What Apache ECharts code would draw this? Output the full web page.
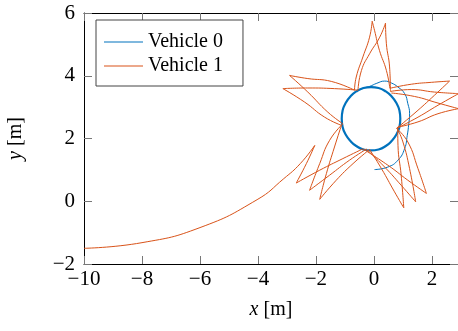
<!DOCTYPE html>
<html>
<head>
<meta charset="utf-8">
<script src="https://cdn.jsdelivr.net/npm/echarts@6/dist/echarts.min.js"></script>
<style>
  html, body { margin: 0; padding: 0; background: #fff; }
  #chart { width: 458px; height: 331px; }
</style>
</head>
<body>
<div id="chart"></div>
<script>
// axis ranges
const xRange = [-10, 2.9]
const yRange = [-2, 6]
const seriesNames = ['Vehicle 0', 'Vehicle 1']

// vehicle 0: approach arc, then laps on the circle
const v0Spiral = [
  [0.02, 1.01], [0.48, 1.09], [0.83, 1.31], [1.06, 1.68], [1.15, 2.1], [1.2, 2.45],
  [1.23, 2.79], [1.17, 3.11], [1.06, 3.43], [0.83, 3.64], [0.6, 3.77], [0.37, 3.83],
  [0.1, 3.76], [-0.15, 3.66], [-0.36, 3.61]
]
const v0Circle = [
  [-0.36, 3.61], [-0.61, 3.5], [-0.81, 3.34], [-0.97, 3.14], [-1.08, 2.89], [-1.11, 2.63],
  [-1.08, 2.37], [-0.97, 2.12], [-0.81, 1.92], [-0.61, 1.76], [-0.36, 1.65], [-0.1, 1.62],
  [0.16, 1.65], [0.41, 1.76], [0.61, 1.92], [0.77, 2.12], [0.88, 2.37], [0.91, 2.63],
  [0.88, 2.89], [0.77, 3.14], [0.61, 3.34], [0.41, 3.5], [0.16, 3.61], [-0.1, 3.64],
  [-0.36, 3.61], [-0.61, 3.5], [-0.81, 3.34], [-0.97, 3.14], [-1.08, 2.89], [-1.11, 2.63]
]

// vehicle 1: long approach, then petal segments between cusps
const v1Approach = [
  [-10.0, -1.5], [-8.0, -1.32], [-6.0, -0.84], [-4.03, 0.05], [-3.11, 0.72], [-2.54, 1.2], [-2.04, 1.78]
]
const v1Petals = [
  [[-2.04, 1.78], [-2.33, 1.2], [-2.68, 0.58]],
  [[-2.68, 0.58], [-1.87, 0.99], [-1.07, 1.36], [-0.38, 1.67]],
  [[-0.38, 1.67], [0.48, 1.15], [1.17, 0.67], [1.81, 0.25]],
  [[1.81, 0.25], [1.52, 1.04], [1.17, 1.89], [0.78, 2.32]],
  [[0.78, 2.32], [1.52, 2.9], [2.09, 3.38], [2.61, 3.83]],
  [[2.61, 3.83], [1.98, 3.79], [1.29, 3.73], [0.55, 3.6]],
  [[0.55, 3.6], [0.43, 4.17], [0.19, 4.81], [0.02, 5.45], [-0.06, 5.74]],
  [[-0.06, 5.74], [-0.15, 5.23], [-0.38, 4.6], [-0.61, 3.96], [-0.67, 3.54]],
  [[-0.67, 3.54], [-1.47, 3.82], [-2.28, 3.91], [-2.91, 4.01]],
  [[-2.91, 4.01], [-2.28, 3.48], [-1.59, 2.84], [-1.07, 2.47]],
  [[-1.07, 2.47], [-1.53, 1.94], [-1.87, 1.2], [-2.22, 0.35]],
  [[-2.22, 0.35], [-1.53, 0.83], [-0.84, 1.31], [-0.26, 1.66]],
  [[-0.26, 1.66], [0.37, 1.09], [0.94, 0.51], [1.44, -0.02]],
  [[1.44, -0.02], [1.23, 1.04], [1.0, 1.89], [0.8, 2.33]],
  [[0.8, 2.33], [1.52, 2.68], [2.21, 3.06], [2.92, 3.43]],
  [[2.92, 3.43], [2.09, 3.48], [1.29, 3.56], [0.57, 3.5]],
  [[0.57, 3.5], [0.54, 4.28], [0.43, 5.02], [0.4, 5.68]],
  [[0.4, 5.68], [0.2, 5.23], [-0.15, 4.7], [-0.43, 4.17], [-0.55, 3.54]],
  [[-0.55, 3.54], [-1.36, 3.59], [-2.28, 3.61], [-3.14, 3.59]],
  [[-3.14, 3.59], [-2.39, 3.16], [-1.7, 2.68], [-1.12, 2.42]],
  [[-1.12, 2.42], [-1.36, 1.73], [-1.64, 0.88], [-1.87, 0.06]],
  [[-1.87, 0.06], [-1.3, 0.67], [-0.72, 1.2], [-0.15, 1.65]],
  [[-0.15, 1.65], [0.26, 1.04], [0.71, 0.3], [1.03, -0.21]],
  [[1.03, -0.21], [0.94, 0.83], [0.83, 1.78], [0.82, 2.36]],
  [[0.82, 2.36], [1.52, 2.53], [2.21, 2.79], [2.92, 2.95]],
  [[2.92, 2.95], [2.21, 3.13], [1.4, 3.34], [0.6, 3.45]]
]

const BLUE = '#0072BD'
const ORANGE = '#D95319'
const FONT = 'Liberation Serif'

const minus = v => String(v).replace('-', '\u2212')

function axisX(pos) {
  return {
    type: 'value',
    position: pos,
    min: xRange[0],
    max: xRange[1],
    interval: 2,
    axisLine: { show: true, onZero: false, lineStyle: { color: '#000', width: 1 } },
    axisTick: { show: true, inside: true, length: 8, lineStyle: { color: '#777', width: 1 } },
    axisLabel: {
      show: pos == 'bottom',
      showMaxLabel: false,
      formatter: minus,
      fontFamily: FONT,
      fontSize: 21,
      color: '#000',
      margin: 5
    },
    splitLine: { show: false }
  }
}

function axisY(pos) {
  return {
    type: 'value',
    position: pos,
    min: yRange[0],
    max: yRange[1],
    interval: 2,
    axisLine: { show: pos == 'left', onZero: false, lineStyle: { color: '#000', width: 1 } },
    axisTick: { show: true, inside: true, length: 8, lineStyle: { color: '#777', width: 1 } },
    axisLabel: {
      show: pos == 'left',
      formatter: minus,
      fontFamily: FONT,
      fontSize: 21,
      color: '#000',
      margin: 9
    },
    splitLine: { show: false }
  }
}

const nameStyle = {
  fontFamily: FONT,
  fontSize: 20,
  color: '#000',
  rich: { i: { fontFamily: FONT, fontSize: 20, fontStyle: 'italic', color: '#000' } }
}

const xBottom = axisX('bottom')
xBottom.name = '{i|x} [m]'
xBottom.nameLocation = 'middle'
xBottom.nameGap = 36
xBottom.nameTextStyle = nameStyle

const yLeft = axisY('left')
yLeft.name = '{i|y} [m]'
yLeft.nameLocation = 'middle'
yLeft.nameRotate = 90
yLeft.nameGap = 58
yLeft.nameTextStyle = nameStyle

const line = {
  type: 'line',
  symbol: 'none',
  smooth: 0.5,
  animation: false,
  silent: true
}

const series = [
  { ...line, name: seriesNames[0], data: v0Spiral, lineStyle: { color: BLUE, width: 1 }, itemStyle: { color: BLUE } },
  { ...line, name: seriesNames[0], data: v0Circle, lineStyle: { color: BLUE, width: 2.2 }, itemStyle: { color: BLUE } },
  { ...line, name: seriesNames[1], data: v1Approach, lineStyle: { color: ORANGE, width: 1 }, itemStyle: { color: ORANGE } }
]
for (let i = 0; i < v1Petals.length; i++) {
  series.push({ ...line, name: seriesNames[1], data: v1Petals[i], lineStyle: { color: ORANGE, width: 1 }, itemStyle: { color: ORANGE } })
}

const chart = echarts.init(document.getElementById('chart'), null, { renderer: 'canvas' })
chart.setOption({
  animation: false,
  backgroundColor: '#fff',
  grid: { left: 84, right: 0, top: 13, bottom: 67, outerBoundsMode: 'none' },
  xAxis: [xBottom, axisX('top')],
  yAxis: [yLeft, axisY('right')],
  legend: {
    data: seriesNames,
    icon: 'rect',
    orient: 'vertical',
    left: 96,
    top: 20,
    padding: [12, 20, 10, 8],
    itemGap: 4,
    itemWidth: 39,
    itemHeight: 1.2,
    selectedMode: false,
    backgroundColor: '#fff',
    borderColor: '#444',
    borderWidth: 1,
    borderRadius: 0,
    textStyle: { fontFamily: FONT, fontSize: 20, color: '#000', lineHeight: 20 }
  },
  series: series
})
</script>
</body>
</html>
